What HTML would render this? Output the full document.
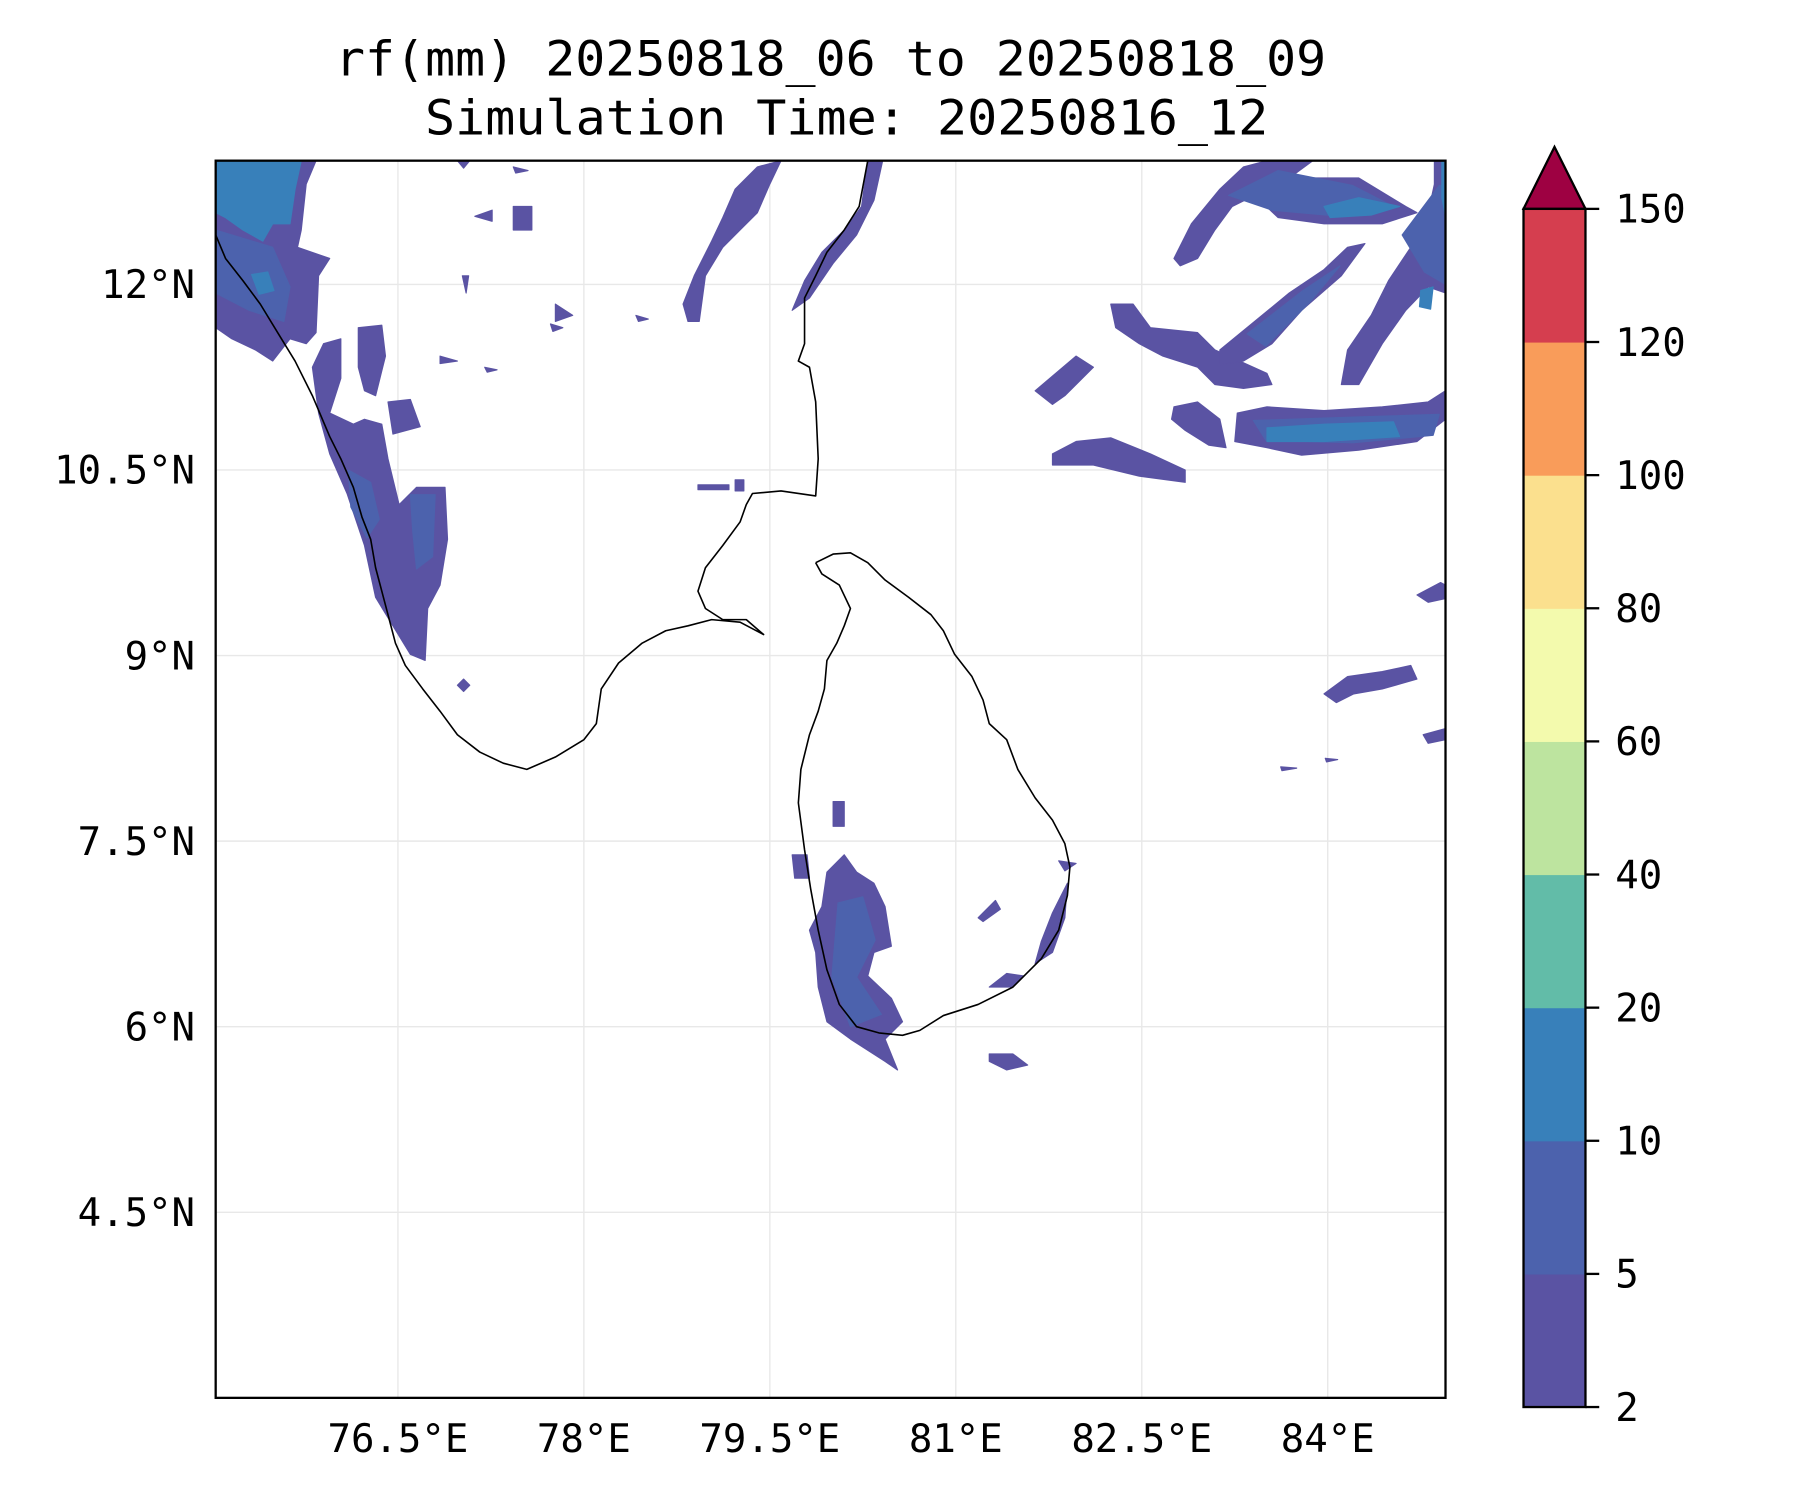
<!DOCTYPE html>
<html><head><meta charset="utf-8"><style>
html,body{margin:0;padding:0;background:#fff}
svg{display:block}
text{font-family:"DejaVu Sans Mono","Liberation Mono",monospace;fill:#000}
</style></head><body>
<svg id="fig" width="1800" height="1500" viewBox="0 0 1569 1307" preserveAspectRatio="none" xmlns="http://www.w3.org/2000/svg">
<rect width="1569" height="1307" fill="#fff"/>
<text x="724" y="66" font-size="42" text-anchor="middle" textLength="864" lengthAdjust="spacingAndGlyphs">rf(mm) 20250818_06 to 20250818_09</text>
<text x="738" y="117" font-size="42" text-anchor="middle" textLength="735" lengthAdjust="spacingAndGlyphs">Simulation Time: 20250816_12</text>
<g id="grid"></g>
<g id="rain"></g>
<g id="coast"></g>
<rect x="188" y="140" width="1072" height="1078" fill="none" stroke="#000" stroke-width="2"/>
<g id="labels"></g>
<g id="cbar"></g>
</svg>
<script>
const lonTicks=[76.5,78,79.5,81,82.5,84];
const lonLabels=["76.5°E","78°E","79.5°E","81°E","82.5°E","84°E"];
const latTicks=[12,10.5,9,7.5,6,4.5];
const latLabels=["12°N","10.5°N","9°N","7.5°N","6°N","4.5°N"];
const cbLevels=[2,5,10,20,40,60,80,100,120,150];
const cbColors=["#5a53a3","#4c62ad","#3880ba","#62bca8","#bde49f","#f3faad","#fbe08e","#f99c5a","#d53e4f"];
const extendColor="#9e0142";

const coastIndia=[[75.00,12.40],[75.11,12.21],[75.25,12.03],[75.39,11.84],[75.53,11.61],[75.67,11.38],[75.81,11.10],[75.95,10.77],[76.04,10.59],[76.14,10.36],[76.21,10.12],[76.28,9.94],[76.32,9.71],[76.37,9.52],[76.42,9.33],[76.48,9.10],[76.56,8.92],[76.70,8.73],[76.84,8.55],[76.98,8.36],[77.16,8.22],[77.35,8.13],[77.54,8.08],[77.77,8.18],[78.00,8.32],[78.10,8.45],[78.14,8.73],[78.28,8.94],[78.47,9.10],[78.66,9.20],[78.84,9.24],[79.03,9.29],[79.26,9.27],[79.45,9.17],[79.31,9.29],[79.12,9.29],[78.98,9.38],[78.92,9.52],[78.98,9.71],[79.12,9.89],[79.26,10.08],[79.31,10.22],[79.36,10.31],[79.59,10.33],[79.87,10.29],[79.89,10.59],[79.87,11.05],[79.82,11.33],[79.73,11.38],[79.78,11.52],[79.78,11.89],[79.87,12.07],[79.96,12.26],[80.10,12.44],[80.22,12.63],[80.29,13.00]];
const coastLanka=[[79.87,9.75],[80.01,9.82],[80.15,9.83],[80.29,9.75],[80.43,9.61],[80.62,9.47],[80.80,9.33],[80.90,9.20],[80.99,9.01],[81.13,8.83],[81.22,8.64],[81.27,8.45],[81.41,8.32],[81.50,8.08],[81.64,7.85],[81.78,7.67],[81.88,7.48],[81.92,7.29],[81.90,7.06],[81.83,6.78],[81.69,6.55],[81.46,6.32],[81.18,6.18],[80.90,6.09],[80.71,5.97],[80.57,5.93],[80.38,5.95],[80.20,6.00],[80.06,6.18],[79.96,6.46],[79.89,6.78],[79.83,7.11],[79.78,7.43],[79.73,7.81],[79.75,8.08],[79.82,8.36],[79.89,8.55],[79.94,8.73],[79.96,8.96],[80.04,9.10],[80.10,9.24],[80.15,9.38],[80.06,9.57],[79.92,9.66],[79.87,9.75]];

const rainLight=[
[[75.00,13.00],[75.84,13.00],[75.76,12.81],[75.72,12.44],[75.69,12.30],[75.95,12.21],[75.86,12.07],[75.84,11.61],[75.76,11.52],[75.63,11.56],[75.49,11.38],[75.35,11.47],[75.16,11.56],[75.00,11.65]],
[[75.90,11.52],[76.04,11.56],[76.04,11.24],[75.95,10.96],[76.14,10.87],[76.23,10.91],[76.37,10.87],[76.42,10.59],[76.51,10.22],[76.65,10.36],[76.88,10.36],[76.90,9.94],[76.84,9.57],[76.74,9.38],[76.72,8.96],[76.60,9.01],[76.46,9.24],[76.32,9.47],[76.23,9.89],[76.09,10.31],[75.95,10.63],[75.86,10.96],[75.81,11.33]],
[[76.18,11.65],[76.37,11.67],[76.40,11.42],[76.32,11.10],[76.23,11.14],[76.18,11.33]],
[[76.42,11.05],[76.60,11.07],[76.68,10.85],[76.46,10.79]],
[[83.27,10.96],[83.51,11.01],[83.97,10.98],[84.44,11.01],[84.81,11.05],[85.00,11.14],[85.00,10.91],[84.72,10.73],[84.25,10.66],[83.79,10.62],[83.51,10.68],[83.25,10.73]],
[[81.78,10.63],[81.97,10.73],[82.25,10.76],[82.57,10.63],[82.85,10.50],[82.85,10.40],[82.48,10.45],[82.11,10.54],[81.78,10.54]],
[[82.76,11.01],[82.95,11.05],[83.13,10.91],[83.18,10.68],[83.04,10.70],[82.85,10.82],[82.74,10.91]],
[[82.25,11.84],[82.43,11.84],[82.57,11.65],[82.95,11.61],[83.09,11.47],[83.51,11.28],[83.55,11.19],[83.32,11.16],[83.09,11.19],[82.95,11.33],[82.67,11.42],[82.48,11.52],[82.29,11.65]],
[[83.13,11.47],[83.41,11.70],[83.69,11.93],[83.97,12.12],[84.16,12.30],[84.30,12.33],[84.11,12.07],[83.79,11.79],[83.55,11.52],[83.32,11.38],[83.13,11.35]],
[[82.76,12.21],[82.90,12.49],[83.13,12.77],[83.32,12.95],[83.51,13.00],[83.88,13.00],[83.69,12.86],[84.25,12.86],[84.63,12.63],[84.72,12.58],[84.44,12.49],[83.97,12.49],[83.60,12.54],[83.41,12.72],[83.23,12.63],[83.09,12.44],[82.95,12.21],[82.81,12.15]],
[[84.86,13.00],[85.00,13.00],[85.00,11.93],[84.81,11.98],[84.63,11.79],[84.44,11.52],[84.25,11.19],[84.11,11.19],[84.16,11.47],[84.35,11.75],[84.49,12.03],[84.67,12.30],[84.81,12.58],[84.86,12.81]],
[[81.64,11.14],[81.97,11.42],[82.11,11.33],[81.88,11.10],[81.78,11.03]],
[[83.97,8.69],[84.16,8.83],[84.44,8.87],[84.67,8.92],[84.72,8.81],[84.44,8.73],[84.21,8.69],[84.07,8.62]],
[[84.72,9.49],[84.91,9.59],[85.00,9.57],[85.00,9.46],[84.81,9.43]],
[[84.77,8.36],[85.00,8.41],[85.00,8.32],[84.81,8.29]],
[[78.89,12.07],[79.03,12.35],[79.12,12.54],[79.22,12.77],[79.40,12.95],[79.59,13.00],[79.50,12.81],[79.40,12.58],[79.26,12.44],[79.12,12.30],[78.98,12.07],[78.93,11.70],[78.84,11.70],[78.80,11.84]],
[[79.78,12.03],[79.92,12.26],[80.10,12.44],[80.24,12.63],[80.29,13.00],[80.41,13.00],[80.34,12.68],[80.20,12.40],[80.01,12.17],[79.82,11.89],[79.68,11.79]],
[[79.96,7.25],[80.10,7.39],[80.20,7.25],[80.34,7.16],[80.43,6.97],[80.48,6.65],[80.34,6.60],[80.29,6.41],[80.48,6.23],[80.57,6.04],[80.43,5.90],[80.53,5.65],[80.43,5.72],[80.15,5.90],[79.96,6.04],[79.89,6.32],[79.87,6.60],[79.82,6.78],[79.92,6.97]],
[[81.64,6.51],[81.69,6.69],[81.78,6.92],[81.85,7.06],[81.90,7.16],[81.88,6.88],[81.78,6.60]],
[[81.83,7.34],[81.97,7.32],[81.88,7.26]],
[[81.27,6.32],[81.41,6.43],[81.55,6.41],[81.46,6.32]],
[[81.27,5.78],[81.46,5.78],[81.58,5.69],[81.41,5.65],[81.27,5.72]],
[[80.01,7.82],[80.10,7.82],[80.10,7.62],[80.01,7.62]],
[[79.68,7.39],[79.80,7.39],[79.82,7.20],[79.70,7.20]],
[[81.18,6.88],[81.32,7.02],[81.36,6.95],[81.22,6.85]],
[[78.92,10.38],[79.17,10.38],[79.17,10.34],[78.92,10.34]],
[[79.22,10.42],[79.29,10.42],[79.29,10.33],[79.22,10.33]],
[[76.98,8.76],[77.03,8.81],[77.08,8.76],[77.03,8.71]],
[[77.43,12.63],[77.58,12.63],[77.58,12.44],[77.43,12.44]],
[[77.12,12.55],[77.26,12.60],[77.26,12.51]],
[[77.77,11.84],[77.91,11.75],[77.77,11.70]],
[[77.73,11.68],[77.83,11.65],[77.75,11.62]],
[[78.42,11.75],[78.52,11.72],[78.44,11.70]],
[[76.84,11.42],[76.98,11.38],[76.84,11.36]],
[[77.02,12.07],[77.07,12.07],[77.05,11.93]],
[[77.20,11.33],[77.30,11.31],[77.22,11.29]],
[[83.62,8.10],[83.75,8.09],[83.63,8.07]],
[[83.98,8.17],[84.08,8.16],[83.99,8.14]],
[[77.43,12.95],[77.55,12.92],[77.45,12.90]],
[[76.98,13.00],[77.08,13.00],[77.03,12.94]]
];
const rainMid=[
[[75.00,12.44],[75.49,12.30],[75.63,11.98],[75.58,11.70],[75.30,11.79],[75.00,11.93]],
[[76.10,10.50],[76.28,10.40],[76.35,10.10],[76.25,9.95],[76.12,10.20]],
[[76.60,10.30],[76.80,10.30],[76.78,9.80],[76.65,9.70],[76.62,10.00]],
[[83.40,10.90],[84.30,10.93],[84.90,10.95],[84.85,10.78],[84.20,10.72],[83.50,10.74]],
[[83.20,12.72],[83.60,12.92],[84.20,12.80],[84.55,12.62],[84.10,12.55],[83.55,12.60]],
[[84.90,12.80],[85.00,12.80],[85.00,12.00],[84.78,12.10],[84.60,12.40]],
[[83.35,11.60],[83.80,11.95],[84.10,12.15],[83.85,11.85],[83.50,11.50]],
[[80.05,7.00],[80.25,7.05],[80.35,6.70],[80.20,6.40],[80.40,6.10],[80.15,6.00],[80.00,6.40]]
];
const rainBlue=[
[[75.00,13.00],[75.72,13.00],[75.67,12.77],[75.63,12.49],[75.49,12.49],[75.41,12.35],[75.25,12.44],[75.11,12.54],[75.00,12.58]],
[[75.32,12.08],[75.45,12.10],[75.50,11.95],[75.38,11.92]],
[[83.51,10.84],[83.97,10.87],[84.53,10.89],[84.58,10.77],[83.97,10.73],[83.51,10.73]],
[[83.97,12.63],[84.25,12.70],[84.58,12.63],[84.35,12.56],[84.02,12.54]],
[[84.92,13.00],[85.00,13.00],[85.00,12.55],[84.92,12.70]],
[[84.75,11.95],[84.85,11.98],[84.83,11.80],[84.74,11.82]]
];

const X0=188,X1=1260,Y0=140,Y1=1218,LON0=75.03,LON1=84.95,LAT0=3,LAT1=13;
function xs(lon){return X0+(lon-LON0)/(LON1-LON0)*(X1-X0);}
function ys(lat){return Y1-(lat-LAT0)/(LAT1-LAT0)*(Y1-Y0);}
const NS='http://www.w3.org/2000/svg';
function mk(tag,attrs,parent){const e=document.createElementNS(NS,tag);for(const k in attrs)e.setAttribute(k,attrs[k]);parent.appendChild(e);return e;}
function pts(arr){return arr.map(p=>Math.max(X0,Math.min(X1,xs(p[0]))).toFixed(1)+','+ys(p[1]).toFixed(1)).join(' ');}

const grid=document.getElementById('grid');
const labels=document.getElementById('labels');
lonTicks.forEach((v,i)=>{
  const l=mk('line',{x1:xs(v),x2:xs(v),y1:Y0,y2:Y1,stroke:'#e8e8e8','stroke-width':1.2},grid);
  
  
  const t=mk('text',{x:xs(v),y:1265,'font-size':34,'text-anchor':'middle'},labels);
  t.textContent=lonLabels[i];
  
  
});
latTicks.forEach((v,i)=>{
  const l=mk('line',{x1:X0,x2:X1,y1:ys(v),y2:ys(v),stroke:'#e8e8e8','stroke-width':1.2},grid);
  
  
  const t=mk('text',{x:170,y:ys(v)+12,'font-size':34,'text-anchor':'end'},labels);
  t.textContent=latLabels[i];
  
  
});

const rain=document.getElementById('rain');
[[rainLight,cbColors[0]],[rainMid,cbColors[1]],[rainBlue,cbColors[2]]].forEach(([set,col])=>{
  set.forEach(poly=>{
    const p=mk('polygon',{points:pts(poly),fill:col,stroke:col,'stroke-width':1,'stroke-linejoin':'round'},rain);
    
    
  });
});

const coast=document.getElementById('coast');
[coastIndia,coastLanka].forEach((c,i)=>{
  const p=mk('polyline',{points:pts(c),fill:'none',stroke:'#000','stroke-width':1.4,'stroke-linejoin':'round'},coast);
  
  
});

const cb=document.getElementById('cbar');
const CX0=1328,CX1=1382,CY0=182,CY1=1226;
const n=cbLevels.length-1;
function cy(i){return CY1-i/n*(CY1-CY0);}
for(let i=0;i<n;i++){
  const r=mk('rect',{x:CX0,y:cy(i+1),width:CX1-CX0,height:cy(i)-cy(i+1)+0.5,fill:cbColors[i]},cb);
  
  
}
const tri=mk('polygon',{points:`${CX0},${CY0} ${(CX0+CX1)/2},128 ${CX1},${CY0}`,fill:extendColor,stroke:'#000','stroke-width':2},cb);


const fr=mk('rect',{x:CX0,y:CY0,width:CX1-CX0,height:CY1-CY0,fill:'none',stroke:'#000','stroke-width':2},cb);


cbLevels.forEach((v,i)=>{
  const tk=mk('line',{x1:CX1,x2:CX1+12,y1:cy(i),y2:cy(i),stroke:'#000','stroke-width':2},cb);
  
  
  const t=mk('text',{x:1408,y:cy(i)+12,'font-size':34},cb);
  t.textContent=String(v);
  
  
});
</script>
</body></html>
